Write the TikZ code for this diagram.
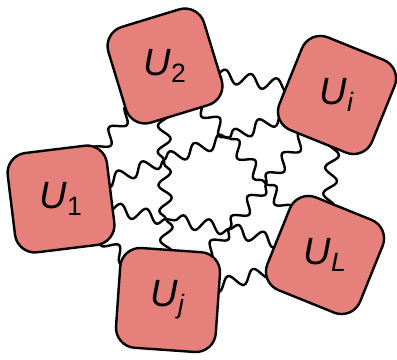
\documentclass[tikz,border=0pt]{standalone}
\usepackage{fontspec}
\setmainfont{Liberation Sans}
\usepackage{xcolor}
\definecolor{UnitRed}{RGB}{229,128,123}
\usepackage{tikz}
\usetikzlibrary{decorations.pathmorphing,backgrounds}
\newcommand{\ulab}[1]{\textit{U}\textsubscript{#1}}

\begin{document}
\begin{tikzpicture}[x=0.25mm,y=-0.25mm,
  ubox/.style={rectangle,rounded corners=5mm,draw=black,line width=0.6mm,fill=UnitRed,
               minimum width=25mm,minimum height=25mm,inner sep=0pt},
  ulabel/.style={font=\fontsize{27}{30}\selectfont,inner sep=0pt},
  wave/.style={decorate,decoration={snake,segment length=6.5mm,amplitude=1.6mm},line width=0.6mm}
]
  \useasboundingbox (0,0) rectangle (397,360);
  \node[ubox,rotate=7]   (u1) at (61,199)  {};
  \node[ubox,rotate=17]  (u2) at (165,66)  {};
  \node[ubox,rotate=-22] (ui) at (337,95)  {};
  \node[ubox,rotate=-22] (uL) at (325,255) {};
  \node[ubox,rotate=-4]  (uj) at (168,300) {};
  \node[ulabel] (l1) at (u1) {\ulab{1}};
  \node[ulabel] (l2) at (u2) {\ulab{2}};
  \node[ulabel] (li) at (ui) {\ulab{\textit{i}}};
  \node[ulabel] (lL) at (uL) {\ulab{\textit{L}}};
  \node[ulabel] (lj) at (uj) {\ulab{\textit{j}}};
  \coordinate (c12) at (164,160);
  \coordinate (c2i) at (229,138);
  \coordinate (ciL) at (266,184);
  \coordinate (cLj) at (229,229);
  \coordinate (cj1) at (166,219);
  \begin{scope}[on background layer]
    \draw[wave](c12)--(c2i); \draw[wave](c2i)--(ciL); \draw[wave](ciL)--(cLj);
    \draw[wave](cLj)--(cj1); \draw[wave](cj1)--(c12);
    \draw[wave](c12)--(u2.center); \draw[wave](c12)--(u1.center);
    \draw[wave](c2i)--(u2.center); \draw[wave](c2i)--(ui.center);
    \draw[wave](ciL)--(ui.center); \draw[wave](ciL)--(uL.center);
    \draw[wave](cLj)--(uL.center); \draw[wave](cLj)--(uj.center);
    \draw[wave](cj1)--(uj.center); \draw[wave](cj1)--(u1.center);
    \draw[wave](u1.center)--(u2.center); \draw[wave](u2.center)--(ui.center);
    \draw[wave](ui.center)--(uL.center); \draw[wave](uL.center)--(uj.center);
    \draw[wave](uj.center)--(u1.center);
  \end{scope}
\end{tikzpicture}
\end{document}
